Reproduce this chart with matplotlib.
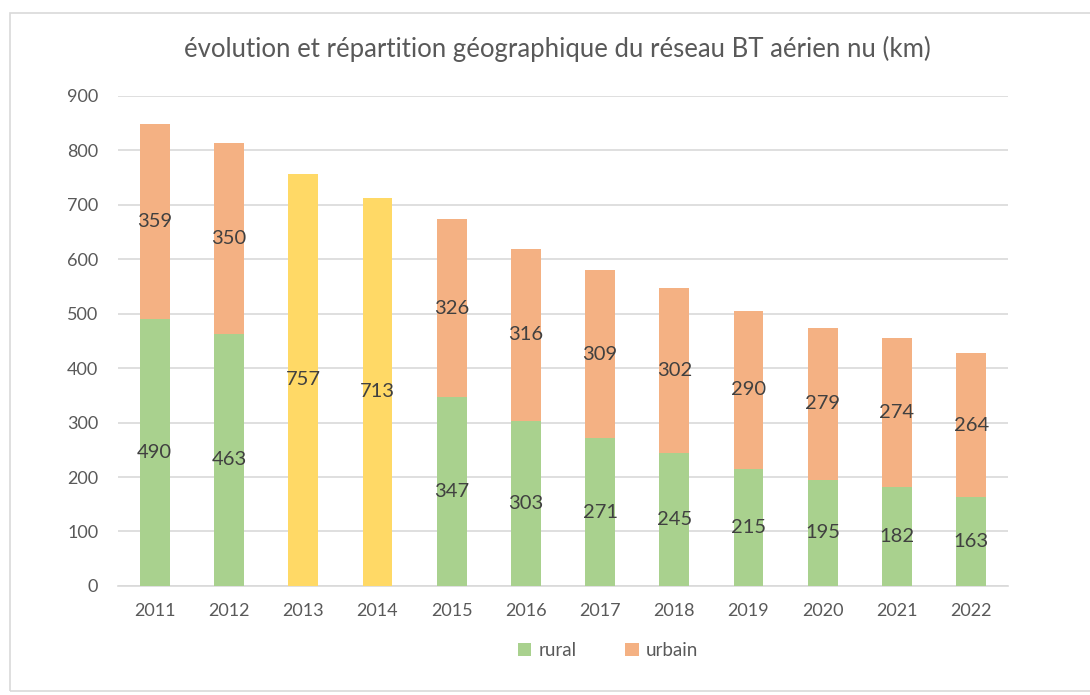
import matplotlib.pyplot as plt
import numpy as np

years = ['2011', '2012', '2013', '2014', '2015', '2016', '2017', '2018', '2019', '2020', '2021', '2022']
rural = [490, 463, 0, 0, 347, 303, 271, 245, 215, 195, 182, 163]
urbain = [359, 350, 0, 0, 326, 316, 309, 302, 290, 279, 274, 264]
total_only = [0, 0, 757, 713, 0, 0, 0, 0, 0, 0, 0, 0]

GREEN = '#A9D18E'
ORANGE = '#F4B183'
YELLOW = '#FFD966'
TXT = '#595959'
LBL = '#404040'

plt.rcParams['font.family'] = ['Lato', 'DejaVu Sans']

fig = plt.figure(figsize=(10.9, 6.95), dpi=100)
ax = fig.add_axes([0.108, 0.157, 0.817, 0.705])

# light frame around the chart
fig.patches.append(plt.Rectangle((0.009, 0.006), 1.2, 0.976, transform=fig.transFigure,
                                 fill=False, edgecolor='#D9D9D9', linewidth=1.2))

x = np.arange(len(years))
w = 0.4
b1 = ax.bar(x, rural, w, color=GREEN, label='rural', zorder=3)
b2 = ax.bar(x, urbain, w, bottom=rural, color=ORANGE, label='urbain', zorder=3)
b3 = ax.bar(x, total_only, w, color=YELLOW, zorder=3)

for i in range(len(years)):
    if rural[i]:
        ax.text(x[i], rural[i] / 2, str(rural[i]), ha='center', va='center', fontsize=14.5, color=LBL, zorder=4)
    if urbain[i]:
        ax.text(x[i], rural[i] + urbain[i] / 2, str(urbain[i]), ha='center', va='center', fontsize=14.5, color=LBL, zorder=4)
    if total_only[i]:
        ax.text(x[i], total_only[i] / 2, str(total_only[i]), ha='center', va='center', fontsize=14.5, color=LBL, zorder=4)

ax.set_xlim(-0.5, len(years) - 0.5)
ax.set_ylim(0, 900)
ax.set_yticks(range(0, 901, 100))
ax.set_xticks(x)
ax.set_xticklabels(years)
ax.yaxis.grid(True, color='#D9D9D9', linewidth=1.2, zorder=0)
ax.set_axisbelow(True)
for s in ['top', 'right', 'left']:
    ax.spines[s].set_visible(False)
ax.spines['bottom'].set_color('#D9D9D9')
ax.spines['bottom'].set_linewidth(1.2)
ax.tick_params(axis='both', length=0, labelsize=13, colors=TXT, pad=12)
ax.tick_params(axis='y', pad=14)

fig.text(0.511, 0.929, 'évolution et répartition géographique du réseau BT aérien nu (km)',
         ha='center', va='center', fontsize=18.5, color=TXT)

fig.legend(handles=[b1, b2], labels=['rural', 'urbain'], loc='center', bbox_to_anchor=(0.558, 0.064),
           ncol=2, frameon=False, fontsize=13.5, labelcolor=TXT, handlelength=0.7, handleheight=0.7,
           columnspacing=2.6, handletextpad=0.4)

fig.savefig('out.png', dpi=100, facecolor='white')
